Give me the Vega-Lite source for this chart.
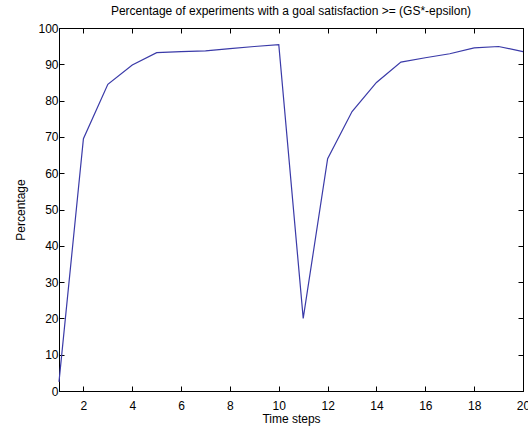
{
  "$schema": "https://vega.github.io/schema/vega-lite/v6.json",
  "autosize": "none",
  "width": 464,
  "height": 363,
  "padding": {"left": 59, "top": 28, "right": 5, "bottom": 44},
  "background": "white",
  "title": {"text": "Percentage of experiments with a goal satisfaction >= (GS*-epsilon)", "font": "Liberation Sans", "fontSize": 12, "fontWeight": "normal", "color": "black", "offset": 4},
  "config": {
    "view": {"stroke": "black", "strokeWidth": 1},
    "axis": {"labelFont": "Liberation Sans", "titleFont": "Liberation Sans", "labelFontSize": 12, "titleFontSize": 12, "titleFontWeight": "normal", "labelColor": "black", "titleColor": "black", "tickColor": "black", "domainColor": "black", "grid": false, "tickSize": -5}
  },
  "data": {"values": [
    {"t": 1, "p": 2.5},
    {"t": 2, "p": 69.5},
    {"t": 3, "p": 84.5},
    {"t": 4, "p": 89.8},
    {"t": 5, "p": 93.2},
    {"t": 6, "p": 93.5},
    {"t": 7, "p": 93.7},
    {"t": 8, "p": 94.3},
    {"t": 9, "p": 94.9},
    {"t": 10, "p": 95.4},
    {"t": 11, "p": 20},
    {"t": 12, "p": 64},
    {"t": 13, "p": 77},
    {"t": 14, "p": 85},
    {"t": 15, "p": 90.6},
    {"t": 16, "p": 91.8},
    {"t": 17, "p": 92.9},
    {"t": 18, "p": 94.5},
    {"t": 19, "p": 94.9},
    {"t": 20, "p": 93.5}
  ]},
  "layer": [
    {
      "mark": {"type": "line", "color": "#3a3aa8", "strokeWidth": 1.2},
      "encoding": {
        "x": {"field": "t", "type": "quantitative", "scale": {"domain": [1, 20], "nice": false, "zero": false}, "axis": {"title": "Time steps", "values": [2,4,6,8,10,12,14,16,18,20], "labelPadding": 14, "titlePadding": 2, "labelFlush": false}},
        "y": {"field": "p", "type": "quantitative", "scale": {"domain": [0, 100], "nice": false}, "axis": {"title": "Percentage", "values": [0,10,20,30,40,50,60,70,80,90,100], "labelPadding": 6, "titlePadding": 10}}
      }
    },
    {
      "mark": {"type": "line", "opacity": 0},
      "encoding": {
        "x": {"field": "t", "type": "quantitative", "scale": {"domain": [1, 20], "nice": false, "zero": false}, "axis": {"orient": "top", "title": null, "labels": false, "values": [2,4,6,8,10,12,14,16,18,20]}},
        "y": {"field": "p", "type": "quantitative", "scale": {"domain": [0, 100], "nice": false}, "axis": {"orient": "right", "title": null, "labels": false, "values": [0,10,20,30,40,50,60,70,80,90,100]}}
      }
    }
  ],
  "resolve": {"axis": {"x": "independent", "y": "independent"}}
}
